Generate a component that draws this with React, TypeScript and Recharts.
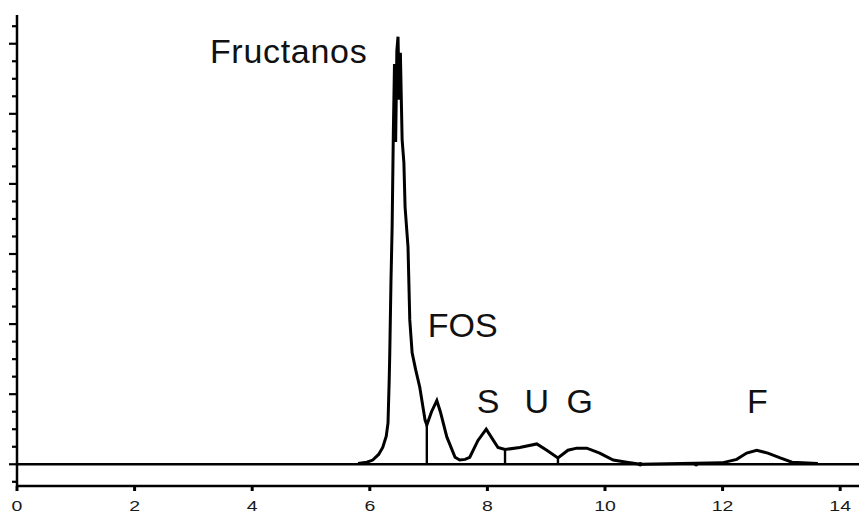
import React from "react";
import {
  ComposedChart,
  Line,
  XAxis,
  YAxis,
  ReferenceLine,
  ReferenceDot,
} from "recharts";

// retention time (min)
const times = [
  5.8, 5.95, 6.05, 6.15, 6.22, 6.28, 6.31, 6.33, 6.34, 6.36, 6.38, 6.4, 6.42,
  6.44, 6.46, 6.48, 6.5, 6.52, 6.55, 6.58, 6.6, 6.65, 6.68, 6.72, 6.78, 6.85,
  6.94, 6.97, 7.05, 7.14, 7.2, 7.31, 7.45, 7.53, 7.62, 7.7, 7.84, 7.98, 8.08,
  8.18, 8.3, 8.55, 8.84, 9.01, 9.2, 9.37, 9.52, 9.69, 9.91, 10.14, 10.37, 10.6,
  11.99, 12.24, 12.41, 12.58, 12.77, 12.98, 13.18, 13.62,
];
// detector signal
const signal = [
  0.01, 0.03, 0.06, 0.14, 0.24, 0.4, 0.59, 1.2, 1.59, 2.6, 3.39, 4.7, 5.71,
  4.6, 5.9, 6.1, 5.2, 5.87, 4.63, 4.3, 3.67, 3.1, 2.06, 1.59, 1.35, 1.1, 0.63,
  0.56, 0.75, 0.91, 0.75, 0.39, 0.1, 0.06, 0.07, 0.1, 0.34, 0.5, 0.37, 0.24,
  0.21, 0.24, 0.29, 0.2, 0.09, 0.2, 0.23, 0.23, 0.16, 0.06, 0.03, 0.0, 0.02,
  0.07, 0.16, 0.2, 0.16, 0.09, 0.03, 0.01,
];

// peak separation drop lines: [time, height]
const dropTimes = [6.97, 8.3, 9.2];
const dropHeights = [0.56, 0.21, 0.09];

// small dots on baseline
const dotTimes = [10.6, 11.55];

// peak labels
const labelTexts = ["Fructanos", "FOS", "S", "U", "G", "F"];
const labelTimes = [4.62, 7.58, 8.01, 8.84, 9.57, 12.59];
const labelHeights = [5.72, 1.82, 0.73, 0.73, 0.73, 0.73];

const xTicks = [0, 2, 4, 6, 8, 10, 12, 14];
const yTicks: number[] = [];
for (let i = -1; i <= 25; i++) yTicks.push(i * 0.25);

const data = times.map((t, i) => ({ t, v: signal[i] }));

const AXIS_X = 17;
const FONT = "'Liberation Sans', Arial, Helvetica, sans-serif";

const renderYTick = (props: any) => {
  const { y, payload } = props;
  const major = Math.abs(payload.value - Math.round(payload.value)) < 1e-6;
  const len = major ? 8 : 5;
  return (
    <line
      key={"yt" + payload.value}
      x1={AXIS_X - len}
      x2={AXIS_X}
      y1={y}
      y2={y}
      stroke="#000"
      strokeWidth={2.2}
    />
  );
};

const renderXTick = (props: any) => {
  const { x, y, payload } = props;
  return (
    <text
      key={"xt" + payload.value}
      transform={`translate(${x},${y + 17.5}) scale(1.3,1)`}
      textAnchor="middle"
      style={{ fontFamily: FONT, fontSize: 15, fill: "#1a1a1a" }}
    >
      {payload.value}
    </text>
  );
};

export default function App() {
  return (
    <div style={{ position: "absolute", left: 0, top: 0, background: "#fff" }}>
      <ComposedChart
        width={859}
        height={514}
        data={data}
        margin={{ top: 15, right: 0, bottom: 0, left: 0 }}
      >
        <XAxis
          type="number"
          dataKey="t"
          domain={[0, 14.32]}
          ticks={xTicks}
          interval={0}
          axisLine={{ stroke: "#000", strokeWidth: 2.5 }}
          tickLine={{ stroke: "#000", strokeWidth: 3 }}
          tickSize={5}
          tickMargin={2}
          tick={renderXTick}
          height={28}
          allowDataOverflow
        />
        <YAxis
          type="number"
          domain={[-0.31, 6.41]}
          ticks={yTicks}
          interval={0}
          axisLine={{ stroke: "#000", strokeWidth: 2.5 }}
          tickLine={false}
          tick={renderYTick}
          width={17}
          allowDataOverflow
        />
        <ReferenceLine y={0} stroke="#000" strokeWidth={2.6} />
        {dropTimes.map((t, i) => (
          <ReferenceLine
            key={"d" + i}
            segment={[
              { x: t, y: 0 },
              { x: t, y: dropHeights[i] },
            ]}
            stroke="#000"
            strokeWidth={2.4}
          />
        ))}
        {dotTimes.map((t, i) => (
          <ReferenceDot
            key={"p" + i}
            x={t}
            y={0}
            r={2.2}
            fill="#000"
            stroke="none"
          />
        ))}
        <Line
          dataKey="v"
          type="linear"
          stroke="#000"
          strokeWidth={3}
          dot={false}
          isAnimationActive={false}
        />
        {labelTexts.map((txt, i) => (
          <ReferenceDot
            key={"l" + i}
            x={labelTimes[i]}
            y={labelHeights[i]}
            r={1}
            shape={(p: any) => (
              <text
                x={p.cx}
                y={p.cy}
                textAnchor="middle"
                style={{
                  fontFamily: FONT,
                  fontSize: 34,
                  fill: "#111",
                  letterSpacing: i === 0 ? 0.7 : 0,
                }}
              >
                {txt}
              </text>
            )}
          />
        ))}
      </ComposedChart>
    </div>
  );
}
